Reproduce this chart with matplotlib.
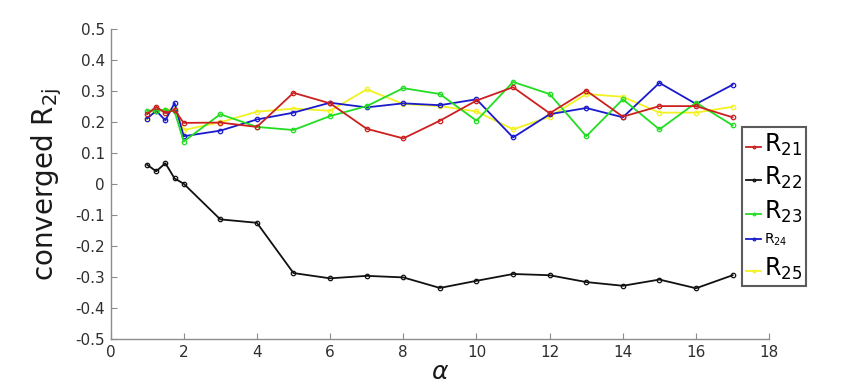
import numpy as np
import matplotlib
matplotlib.use('Agg')
import matplotlib.pyplot as plt

alpha = [1, 1.25, 1.5, 1.75, 2, 3, 4, 5, 6, 7, 8, 9, 10, 11, 12, 13, 14, 15, 16, 17]

r21 = [0.226, 0.250, 0.229, 0.240, 0.198, 0.199, 0.185, 0.295, 0.261, 0.179,
       0.148, 0.205, 0.270, 0.313, 0.229, 0.302, 0.218, 0.252, 0.252, 0.216]
r22 = [0.063, 0.042, 0.068, 0.019, 0.002, -0.113, -0.124, -0.286, -0.303, -0.295,
       -0.300, -0.334, -0.311, -0.289, -0.293, -0.315, -0.327, -0.307, -0.335, -0.293]
r23 = [0.237, 0.237, 0.240, 0.235, 0.138, 0.226, 0.185, 0.175, 0.220, 0.252,
       0.310, 0.291, 0.205, 0.330, 0.291, 0.155, 0.274, 0.177, 0.263, 0.190]
r24 = [0.212, 0.237, 0.206, 0.262, 0.155, 0.173, 0.209, 0.231, 0.263, 0.248,
       0.261, 0.255, 0.274, 0.151, 0.226, 0.246, 0.216, 0.327, 0.259, 0.321]
r25 = [0.210, 0.239, 0.239, 0.245, 0.175, 0.200, 0.234, 0.244, 0.237, 0.306,
       0.259, 0.252, 0.235, 0.177, 0.218, 0.291, 0.282, 0.231, 0.231, 0.250]

labels = ['R$_{21}$', 'R$_{22}$', 'R$_{23}$', 'R$_{24}$', 'R$_{25}$']
colors = ['#cc2020', '#111111', '#22dd22', '#1a1acc', '#f2f222']
label_sizes = [17, 17, 17, 10, 17]

fig = plt.figure(figsize=(8.5, 3.84), dpi=100)
ax = fig.add_axes([0.130, 0.116, 0.775, 0.808])

# amarelo por baixo, como no original
order = [4, 3, 2, 0, 1]
series = [r21, r22, r23, r24, r25]
lines = [None] * 5
for i in order:
    ln, = ax.plot(alpha, series[i], color=colors[i], lw=1.3, marker='o',
                  markersize=3.2, markerfacecolor='none', markeredgewidth=0.9,
                  label=labels[i])
    lines[i] = ln

ax.set_xlim(0, 18)
ax.set_ylim(-0.5, 0.5)
ax.set_xticks(np.arange(0, 19, 2))
ax.set_yticks(np.round(np.arange(-0.5, 0.51, 0.1), 1))
ax.set_yticklabels(['-0.5', '-0.4', '-0.3', '-0.2', '-0.1', '0',
                    '0.1', '0.2', '0.3', '0.4', '0.5'])

for s in ['top', 'right']:
    ax.spines[s].set_visible(False)
for s in ['left', 'bottom']:
    ax.spines[s].set_color('#8c8c8c')
    ax.spines[s].set_linewidth(1.0)
ax.tick_params(direction='in', length=4, color='#8c8c8c', labelsize=11,
               labelcolor='#2e2e2e', pad=4)

ax.set_ylabel('converged R$_{\\mathregular{2j}}$', fontsize=20, color='#1a1a1a',
              labelpad=8)
ax.set_xlabel('$\\alpha$', fontsize=18, color='#1a1a1a', labelpad=0)

leg = fig.legend(lines, labels, loc='upper left', bbox_to_anchor=(0.873, 0.668),
                 frameon=True, fancybox=False, handlelength=1.1,
                 handletextpad=0.15, borderpad=0.3, labelspacing=0.52,
                 borderaxespad=0, markerscale=0.6)
leg.get_frame().set_edgecolor('#333333')
leg.get_frame().set_linewidth(1.5)
for t, fs in zip(leg.get_texts(), label_sizes):
    t.set_fontsize(fs)

fig.savefig('out.png', dpi=100)
